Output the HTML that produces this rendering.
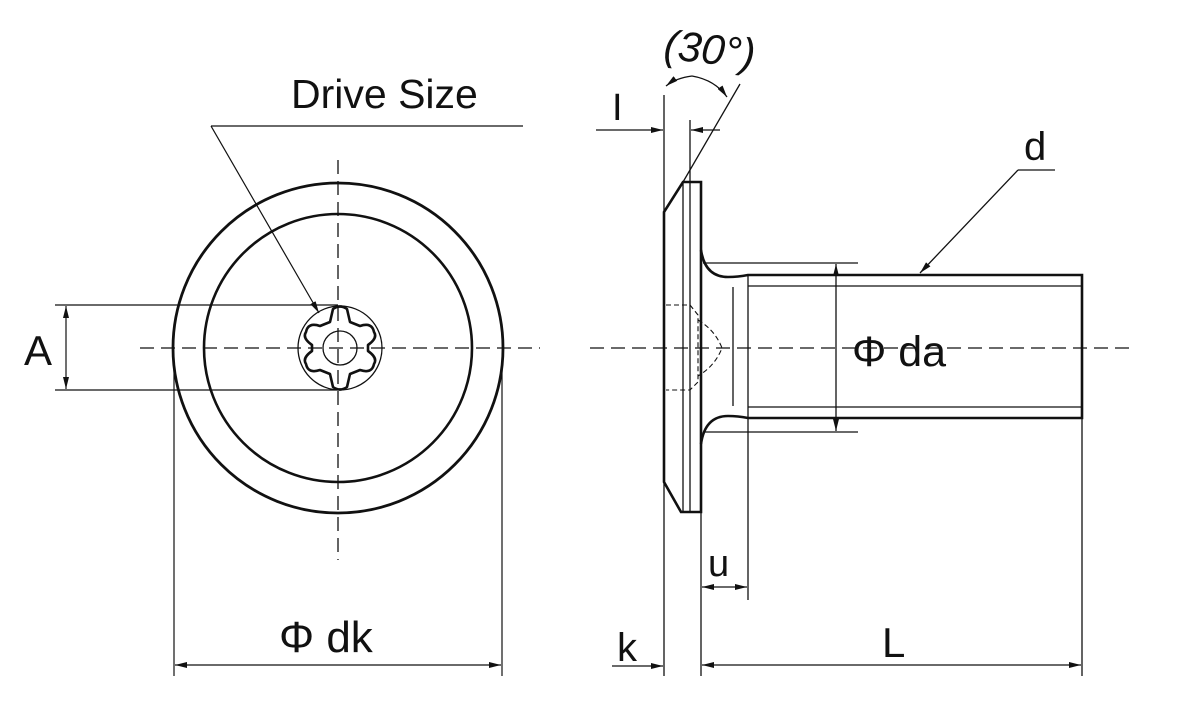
<!DOCTYPE html>
<html><head><meta charset="utf-8"><style>
html,body{margin:0;padding:0;background:#fff;}
svg{display:block;}
text{font-family:"Liberation Sans",sans-serif;fill:#111;}
</style></head><body>
<svg width="1180" height="716" viewBox="0 0 1180 716" xmlns="http://www.w3.org/2000/svg">
<defs>
<marker id="ar" viewBox="0 0 12 6" refX="12" refY="3" markerWidth="12" markerHeight="6" markerUnits="userSpaceOnUse" orient="auto"><path d="M0,0 L12,3 L0,6 z" fill="#111"/></marker>
</defs>
<g stroke="#111" fill="none">
<!-- left view -->
<circle cx="338" cy="348" r="165" stroke-width="2.8"/>
<circle cx="338" cy="348" r="134" stroke-width="2.6"/>
<circle cx="340" cy="348" r="42" stroke-width="1.3"/>
<circle cx="340" cy="348" r="17" stroke-width="1.3"/>
<path d="M333,309 Q340,304 347,309 L350,322 L360,326 Q372,322 374,332 Q378,338 368,345 L368,351 Q378,358 374,364 Q372,374 360,370 L350,374 L347,387 Q340,392 333,387 L330,374 L320,370 Q308,374 306,364 Q302,358 312,351 L312,345 Q302,338 306,332 Q308,322 320,326 L330,322 Z" stroke-width="2.6" stroke-linejoin="round"/>
<g stroke-width="1.3" stroke-dasharray="14,7">
<line x1="140" y1="348" x2="540" y2="348"/>
<line x1="338" y1="160" x2="338" y2="560"/>
</g>
<g stroke-width="1.2">
<line x1="55" y1="305" x2="338" y2="305"/>
<line x1="55" y1="390" x2="338" y2="390"/>
<line x1="66" y1="348" x2="66" y2="306" marker-end="url(#ar)"/>
<line x1="66" y1="348" x2="66" y2="389" marker-end="url(#ar)"/>
<line x1="211" y1="126" x2="523" y2="126"/>
<line x1="211" y1="126" x2="319" y2="313" marker-end="url(#ar)"/>
<line x1="174" y1="365" x2="174" y2="676"/>
<line x1="502" y1="365" x2="502" y2="676"/>
<line x1="338" y1="665" x2="175" y2="665" marker-end="url(#ar)"/>
<line x1="338" y1="665" x2="501" y2="665" marker-end="url(#ar)"/>
</g>
<!-- side view -->
<g stroke-width="2.6">
<path d="M683,182 L701,182 L701,512 L681,512 L664,482 L664,212 Z"/>
<path d="M701,250 Q705,277 728,277 Q738,277 748,275 L1082,275 L1082,418 L748,418 Q738,416 728,416 Q705,416 701,444"/>
</g>
<g stroke-width="1.3">
<line x1="683" y1="182" x2="683" y2="512"/>
<line x1="690" y1="120" x2="690" y2="512"/>
<line x1="733" y1="287" x2="733" y2="406"/>
<line x1="748" y1="275" x2="748" y2="600"/>
<line x1="748" y1="286" x2="1082" y2="286"/>
<line x1="748" y1="407" x2="1082" y2="407"/>
<line x1="664" y1="95" x2="664" y2="676"/>
<line x1="701" y1="512" x2="701" y2="676"/>
<line x1="1082" y1="418" x2="1082" y2="676"/>
<line x1="703" y1="263" x2="858" y2="263"/>
<line x1="703" y1="432" x2="858" y2="432"/>
<line x1="836" y1="348" x2="836" y2="264" marker-end="url(#ar)"/>
<line x1="836" y1="348" x2="836" y2="431" marker-end="url(#ar)"/>
<line x1="683" y1="182" x2="740" y2="84"/>
<line x1="596" y1="130" x2="663" y2="130" marker-end="url(#ar)"/>
<line x1="720" y1="130" x2="691" y2="130" marker-end="url(#ar)"/>
<path d="M692,76 Q676,78 666,86" marker-end="url(#ar)"/>
<path d="M692,76 Q715,80 727,97" marker-end="url(#ar)"/>
<line x1="1055" y1="170" x2="1018" y2="170"/>
<line x1="1018" y1="170" x2="920" y2="273" marker-end="url(#ar)"/>
<line x1="725" y1="587" x2="702" y2="587" marker-end="url(#ar)"/>
<line x1="725" y1="587" x2="747" y2="587" marker-end="url(#ar)"/>
<line x1="612" y1="666" x2="663" y2="666" marker-end="url(#ar)"/>
<line x1="890" y1="665" x2="702" y2="665" marker-end="url(#ar)"/>
<line x1="890" y1="665" x2="1081" y2="665" marker-end="url(#ar)"/>
</g>
<g stroke-width="1.3" stroke-dasharray="14,7">
<line x1="590" y1="348" x2="1130" y2="348"/>
</g>
<g stroke-width="1.1" stroke-dasharray="5,3">
<path d="M666,305 L690,305 L698,315 L698,382 L690,390 L666,390"/>
<path d="M698,320 Q715,330 722,348 Q715,366 698,376"/>
</g>
</g>
<text x="291" y="108" font-size="41">Drive Size</text>
<text x="24" y="365" font-size="42">A</text>
<text x="279" y="652" font-size="44">Φ dk</text>
<text x="612" y="120" font-size="38" font-family="Liberation Serif">I</text>
<text x="664" y="64" font-size="42" font-style="italic" transform="rotate(6 714 50)">(30°)</text>
<text x="1024" y="160" font-size="40">d</text>
<text x="852" y="366" font-size="43">Φ da</text>
<text x="708" y="576" font-size="38">u</text>
<text x="617" y="661" font-size="40">k</text>
<text x="882" y="657" font-size="42">L</text>
</svg>
</body></html>
